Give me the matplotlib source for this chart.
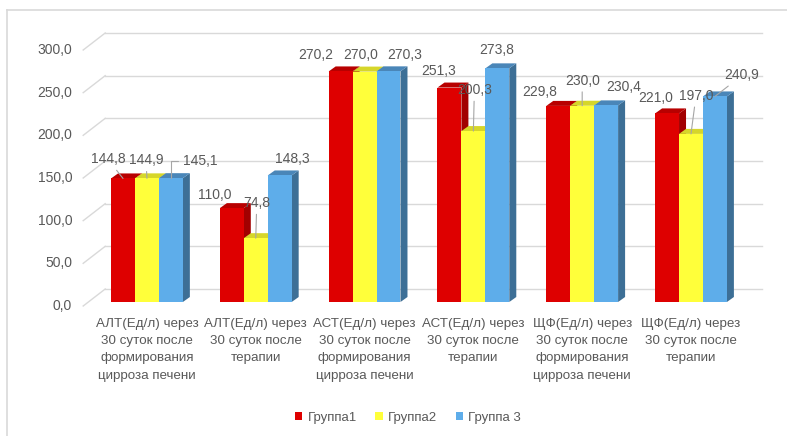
import matplotlib
matplotlib.use("Agg")
import matplotlib.pyplot as plt
from matplotlib.patches import Polygon, Patch
from matplotlib.lines import Line2D
from matplotlib.transforms import IdentityTransform, ScaledTranslation

# ---- data ----
categories = [
    "АЛТ(Ед/л) через\n30 суток после\nформирования\nцирроза печени",
    "АЛТ(Ед/л) через\n30 суток после\nтерапии",
    "АСТ(Ед/л) через\n30 суток после\nформирования\nцирроза печени",
    "АСТ(Ед/л) через\n30 суток после\nтерапии",
    "ЩФ(Ед/л) через\n30 суток после\nформирования\nцирроза печени",
    "ЩФ(Ед/л) через\n30 суток после\nтерапии",
]
series_names = ["Группа1", "Группа2", "Группа 3"]
group1 = [144.8, 110.0, 270.2, 251.3, 229.8, 221.0]
group2 = [144.9, 74.8, 270.0, 200.3, 230.0, 197.0]
group3 = [145.1, 148.3, 270.3, 273.8, 230.4, 240.9]
y_ticks = [0, 50, 100, 150, 200, 250, 300]

series = [group1, group2, group3]

# ---- styling ----
front_colors = ["#DE0000", "#FFFF3A", "#5EADEA"]
side_colors = ["#A20000", "#BDBD10", "#3D6F96"]
top_colors = ["#B80000", "#D6D62A", "#4A86B8"]
text_color = "#595959"
grid_color = "#D9D9D9"
font = ["Liberation Sans", "DejaVu Sans"]

# label offsets (pixels, relative to the top of each bar) and leader styles
label_offsets = [
    [(-15, 19), (-1, 18), (29, 17)],
    [(-17, 13), (1, 35), (13, 16)],
    [(-25, 16), (-4, 16.5), (16, 16)],
    [(-11, 17), (1, 41), (-1, 18)],
    [(-19, 14), (0, 25), (18, 18)],
    [(-11, 15), (5, 38), (27, 21)],
]
leaders = [
    ["line", "line", "elbow"],
    [None, "line", None],
    [None, None, None],
    [None, "line", None],
    [None, "line", None],
    [None, "line", "line"],
]

W, H = 787, 436
fig = plt.figure(figsize=(W / 100, H / 100), dpi=100)
fig.patch.set_facecolor("white")

# bar plane in pixel terms (top-origin): x 88..745, y(0)=302, y(300)=46
ax_l, ax_r, ax_b, ax_t = 88.2, 745.4, 302, 46
ax = fig.add_axes([ax_l / W, (H - ax_b) / H, (ax_r - ax_l) / W, (ax_b - ax_t) / H])
ax.set_xlim(-0.54, 5.5)
ax.set_ylim(0, 300)
ax.axis("off")

ident = IdentityTransform()

# back wall grid and slanted side-wall lines
back_dx, back_dy = 17, 13
front_dx, front_dy = -5, -4
for v in y_ticks:
    xl, yl = ax.transData.transform((-0.54, v))
    xr, _ = ax.transData.transform((5.5, v))
    ax.add_line(Line2D([xl + front_dx, xl + back_dx], [yl + front_dy, yl + back_dy],
                       transform=ident, color=grid_color, lw=1.0, zorder=1, clip_on=False))
    ax.add_line(Line2D([xl + back_dx, xr + back_dx], [yl + back_dy, yl + back_dy],
                       transform=ident, color=grid_color, lw=1.0, zorder=1, clip_on=False))
    ax.text(xl + front_dx - 11, yl + front_dy, f"{v:.1f}".replace(".", ","),
            transform=ident, ha="right", va="center", fontsize=10,
            color=text_color, family=font)

# clustered bars with a shallow depth
n = len(series)
bw = 0.22
depth_dx, depth_dy = 7, 5
x_idx = list(range(len(categories)))
for j, vals in enumerate(series):
    xs = [i + (j - (n - 1) / 2) * bw for i in x_idx]
    ax.bar(xs, vals, width=bw, color=front_colors[j], zorder=3.2 + j,
           linewidth=0, label=series_names[j])
    for x, v in zip(xs, vals):
        x0, y0 = ax.transData.transform((x - bw / 2, 0))
        x1, y1 = ax.transData.transform((x + bw / 2, v))
        side = Polygon([(x1, y0), (x1, y1), (x1 + depth_dx, y1 + depth_dy),
                        (x1 + depth_dx, y0 + depth_dy)], closed=True,
                       transform=ident, facecolor=side_colors[j], edgecolor="none",
                       zorder=3.0 + j, clip_on=False)
        top = Polygon([(x0, y1), (x1, y1), (x1 + depth_dx, y1 + depth_dy),
                       (x0 + depth_dx, y1 + depth_dy)], closed=True,
                      transform=ident, facecolor=top_colors[j], edgecolor="none",
                      zorder=3.1 + j, clip_on=False)
        ax.add_patch(side)
        ax.add_patch(top)

# value labels
for i in x_idx:
    for j, vals in enumerate(series):
        v = vals[i]
        x = i + (j - (n - 1) / 2) * bw
        dx, dy = label_offsets[i][j]
        style = leaders[i][j]
        arrow = None
        if style == "line":
            arrow = dict(arrowstyle="-", color="#A6A6A6", lw=0.8,
                         shrinkA=1, shrinkB=0)
        elif style == "elbow":
            arrow = dict(arrowstyle="-", color="#A6A6A6", lw=0.8,
                         shrinkA=1, shrinkB=0,
                         connectionstyle="angle,angleA=0,angleB=90,rad=0")
        ax.annotate(f"{v:.1f}".replace(".", ","), xy=(x, v),
                    xytext=(dx, dy), textcoords="offset pixels",
                    ha="center", va="center", fontsize=10, color=text_color,
                    family=font, arrowprops=arrow, zorder=10,
                    annotation_clip=False)

# category labels, set a little below the floor
cat_shift = ScaledTranslation(0, -0.16, fig.dpi_scale_trans)
for i, lab in enumerate(categories):
    ax.text(i, 0, lab, transform=ax.get_xaxis_transform() + cat_shift,
            ha="center", va="top", fontsize=9.6, color=text_color, family=font,
            linespacing=1.58)

# legend
handles = [Patch(facecolor=c, edgecolor="none") for c in front_colors]
fig.legend(handles, series_names, loc="center", ncol=3,
           bbox_to_anchor=(408 / W, 1 - 418 / H), frameon=False,
           handlelength=0.55, handleheight=0.55, handletextpad=0.4,
           columnspacing=1.4, prop={"family": font, "size": 9.5},
           labelcolor=text_color)

# chart area frame (top and left edges)
fig.add_artist(Line2D([7 / W, 1], [1 - 10 / H, 1 - 10 / H], transform=fig.transFigure,
                      color=grid_color, lw=1.2))
fig.add_artist(Line2D([7 / W, 7 / W], [0, 1 - 10 / H], transform=fig.transFigure,
                      color=grid_color, lw=1.2))

fig.savefig("out.png", dpi=100, facecolor="white")
